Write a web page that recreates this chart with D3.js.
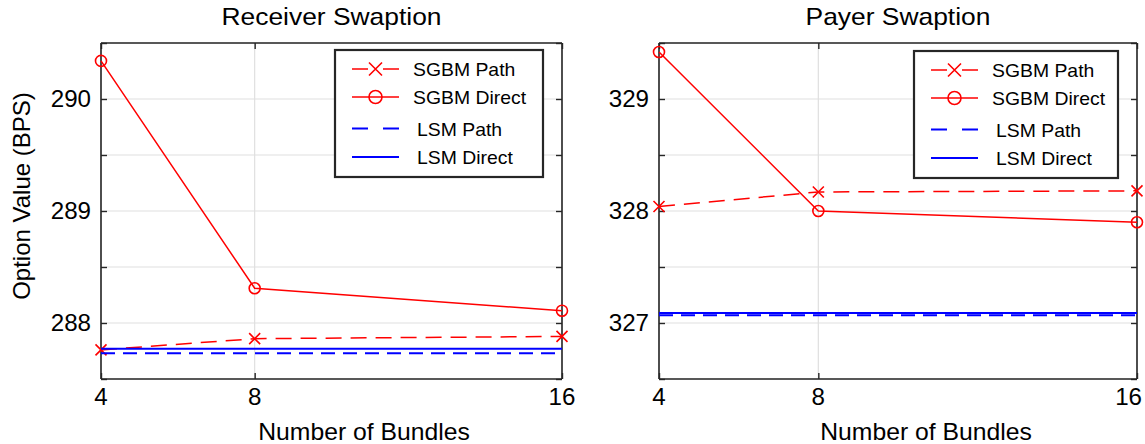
<!DOCTYPE html>
<html><head><meta charset="utf-8">
<script src="https://cdn.jsdelivr.net/npm/d3@7"></script>
<style>
html,body{margin:0;padding:0;background:#fff;}
svg text{font-family:"Liberation Sans",Arial,Helvetica,sans-serif;fill:#000;}
</style></head>
<body>
<svg id="chart" width="1145" height="444"></svg>
<script>
// ---- data ----
const bundles = [4, 8, 16];
const xTicks = [4, 8, 16];

const recvSgbmPath   = [287.76, 287.86, 287.88];
const recvSgbmDirect = [290.34, 288.31, 288.11];
const recvLsmPath    = [287.73, 287.73, 287.73];
const recvLsmDirect  = [287.77, 287.77, 287.77];
const recvYDomain = [287.5, 290.5];
const recvYTicks = [288, 289, 290];
const recvYMinor = [287.5, 288, 288.5, 289, 289.5, 290, 290.5];

const paySgbmPath   = [328.04, 328.17, 328.18];
const paySgbmDirect = [329.42, 328.00, 327.90];
const payLsmPath    = [327.07, 327.07, 327.07];
const payLsmDirect  = [327.09, 327.09, 327.09];
const payYDomain = [326.5, 329.5];
const payYTicks = [327, 328, 329];
const payYMinor = [326.5, 327, 327.5, 328, 328.5, 329, 329.5];

const legendLabels = ["SGBM Path", "SGBM Direct", "LSM Path", "LSM Direct"];
const titles = ["Receiver Swaption", "Payer Swaption"];
const xLabel = "Number of Bundles";
const yLabel = "Option Value (BPS)";

// ---- drawing ----
const W = 1145;
const svg = d3.select("#chart");
const AX = "#262626", GRID = "#dfdfdf", RED = "#ff0000", BLUE = "#0000ff";

function stxt(parent, x, y, str, size, anchor, sx, rot) {
  const g = parent.append("g").attr("transform", `translate(${x},${y})` + (rot ? ` rotate(${rot})` : "") + ` scale(${sx||1},1)`);
  g.append("text").attr("font-size", size).attr("text-anchor", anchor || "start").text(str);
  return g;
}

function marker(g, type, cx, cy, r) {
  if (type === "x") {
    g.append("path").attr("d", `M${cx-r},${cy-r}L${cx+r},${cy+r}M${cx-r},${cy+r}L${cx+r},${cy-r}`)
      .attr("stroke", RED).attr("stroke-width", 1.6).attr("fill", "none");
  } else {
    g.append("circle").attr("cx", cx).attr("cy", cy).attr("r", r)
      .attr("stroke", RED).attr("stroke-width", 1.6).attr("fill", "none");
  }
}

function panel(cfg) {
  const {x0, x1, y0, y1, series, yDomain, yTicks, yMinor, title, legendBox, xlabelCx, showYLabel} = cfg;
  const x = d3.scaleLinear().domain([4, 16]).range([x0, x1]);
  const y = d3.scaleLinear().domain(yDomain).range([y1, y0]);
  const g = svg.append("g");

  // grid
  g.selectAll(".hg").data(yMinor).join("line")
    .attr("x1", x0).attr("x2", x1).attr("y1", d => y(d)).attr("y2", d => y(d))
    .attr("stroke", GRID).attr("stroke-width", 1.2);
  g.selectAll(".vg").data(xTicks).join("line")
    .attr("x1", d => x(d)).attr("x2", d => x(d)).attr("y1", y0).attr("y2", y1)
    .attr("stroke", GRID).attr("stroke-width", 1.2);

  // axes via d3 (inward ticks)
  const tl = 6;
  const left = g.append("g").attr("transform", `translate(${x0},0)`)
    .call(d3.axisLeft(y).tickValues(yMinor).tickSize(-tl).tickFormat(""));
  const right = g.append("g").attr("transform", `translate(${x1},0)`)
    .call(d3.axisRight(y).tickValues(yMinor).tickSize(-tl).tickFormat(""));
  const bottom = g.append("g").attr("transform", `translate(0,${y1})`)
    .call(d3.axisBottom(x).tickValues(xTicks).tickSize(-tl).tickFormat(""));
  const top = g.append("g").attr("transform", `translate(0,${y0})`)
    .call(d3.axisTop(x).tickValues(xTicks).tickSize(-tl).tickFormat(""));
  [left, right, bottom, top].forEach(a => {
    a.select(".domain").attr("stroke", AX).attr("stroke-width", 1.6);
    a.selectAll(".tick line").attr("stroke", AX).attr("stroke-width", 1.4);
  });
  left.select(".domain").attr("d", `M0,${y0}V${y1}`);
  right.select(".domain").attr("d", `M0,${y0}V${y1}`);
  bottom.select(".domain").attr("d", `M${x0},0H${x1}`);
  top.select(".domain").attr("d", `M${x0},0H${x1}`);

  // tick labels
  yTicks.forEach(v => stxt(g, x0 - 10, y(v) + 8, String(v), 23, "end", 1.05));
  xTicks.forEach(v => {
    const cx = x(v);
    // keep the label inside the page at the right edge
    if (cx + 16 > W) stxt(g, W - 3, y1 + 26, String(v), 23, "end", 1.05);
    else stxt(g, cx, y1 + 26, String(v), 23, "middle", 1.05);
  });

  // series
  const line = d3.line().x((d, i) => x(bundles[i])).y(d => y(d));
  const styles = [
    {data: series[0], color: RED, w: 1.5, dash: "16,9", mk: "x"},
    {data: series[1], color: RED, w: 1.5, dash: null, mk: "o"},
    {data: series[2], color: BLUE, w: 2, dash: "14,8", mk: null},
    {data: series[3], color: BLUE, w: 2, dash: null, mk: null},
  ];
  styles.forEach(s => {
    g.append("path").attr("d", line(s.data)).attr("fill", "none")
      .attr("stroke", s.color).attr("stroke-width", s.w)
      .attr("stroke-dasharray", s.dash);
    if (s.mk) s.data.forEach((d, i) => marker(g, s.mk, x(bundles[i]), y(d), 5.5));
  });

  // title & labels
  stxt(g, (x0 + x1) / 2, 25, title, 24, "middle", 1.1);
  stxt(g, xlabelCx, 440, xLabel, 24, "middle", 1.03);
  if (showYLabel) stxt(g, 30, 196, yLabel, 24, "middle", 1, -90);

  // legend
  const lb = legendBox;
  const lg = g.append("g");
  lg.append("rect").attr("x", lb.x).attr("y", lb.y).attr("width", lb.w).attr("height", lb.h)
    .attr("fill", "#fff").attr("stroke", AX).attr("stroke-width", 2.2);
  const rows = [69, 97, 128.5, 157];
  styles.forEach((s, i) => {
    const ly = rows[i] + (lb.y - 50);
    const lx0 = lb.x + 17, lx1 = lb.x + 64;
    lg.append("line").attr("x1", lx0).attr("x2", lx1).attr("y1", ly).attr("y2", ly)
      .attr("stroke", s.color).attr("stroke-width", s.color === BLUE ? 2.2 : 1.6)
      .attr("stroke-dasharray", s.dash ? "16,15" : null);
    if (s.mk) marker(lg, s.mk, (lx0 + lx1) / 2, ly, 6.5);
    stxt(lg, lb.x + (i < 2 ? 78 : 82), ly + 7, legendLabels[i], 19, "start", 1.02);
  });
}

panel({x0: 101, x1: 562, y0: 43, y1: 379,
  series: [recvSgbmPath, recvSgbmDirect, recvLsmPath, recvLsmDirect],
  yDomain: recvYDomain, yTicks: recvYTicks, yMinor: recvYMinor,
  title: titles[0], legendBox: {x: 335, y: 50, w: 208, h: 127},
  xlabelCx: 364, showYLabel: true});
panel({x0: 659, x1: 1137, y0: 43, y1: 379,
  series: [paySgbmPath, paySgbmDirect, payLsmPath, payLsmDirect],
  yDomain: payYDomain, yTicks: payYTicks, yMinor: payYMinor,
  title: titles[1], legendBox: {x: 914, y: 51, w: 204, h: 127},
  xlabelCx: 926, showYLabel: false});
</script>
</body></html>
